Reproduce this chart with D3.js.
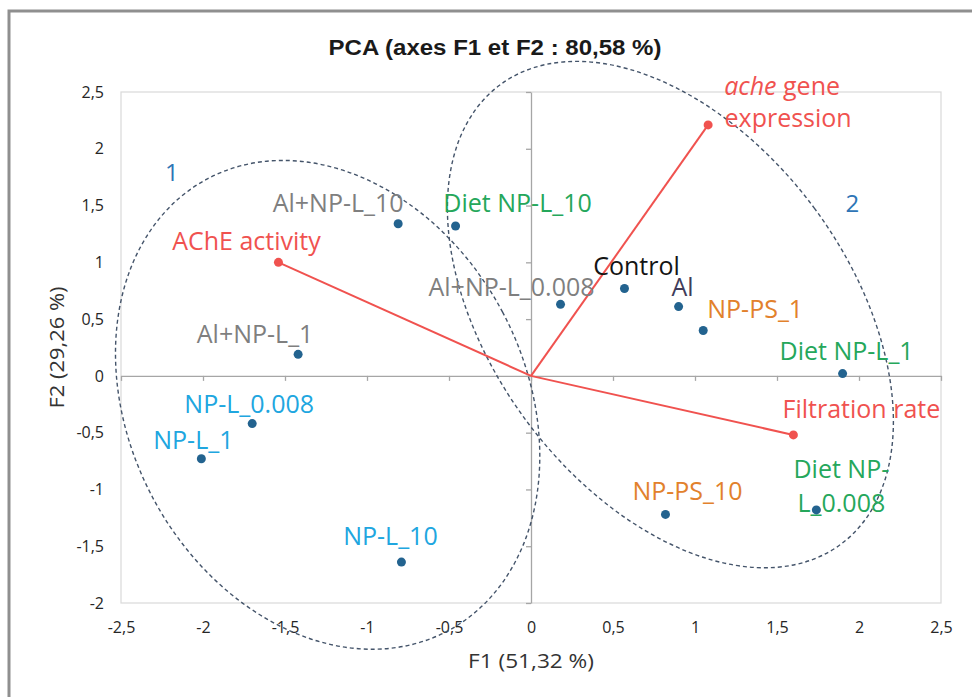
<!DOCTYPE html>
<html>
<head>
<meta charset="utf-8">
<script src="https://cdn.jsdelivr.net/npm/d3@7"></script>
<style>
  body { margin: 0; background: #fff; }
  svg text { font-family: "Open Sans", sans-serif; }
</style>
</head>
<body>
<svg id="chart" width="972" height="697"></svg>
<script>
// observations : scores on F1 / F2
var obsNames = ['Al+NP-L_10', 'Diet NP-L_10', 'Al+NP-L_0.008', 'Control', 'Al', 'NP-PS_1',
                'Diet NP-L_1', 'NP-PS_10', 'Diet NP-L_0.008', 'NP-L_10', 'NP-L_1', 'NP-L_0.008', 'Al+NP-L_1'];
var obsF1 = [-0.81, -0.46, 0.18, 0.57, 0.90, 1.05, 1.90, 0.82, 1.74, -0.79, -2.01, -1.70, -1.42];
var obsF2 = [1.34, 1.32, 0.63, 0.77, 0.61, 0.40, 0.02, -1.22, -1.18, -1.64, -0.73, -0.42, 0.19];
var obsGroup = ['alnpl', 'diet', 'alnpl', 'control', 'al', 'ps', 'diet', 'ps', 'diet', 'npl', 'npl', 'npl', 'alnpl'];

// variables : loadings on F1 / F2
var varNames = ['AChE activity', 'ache gene expression', 'Filtration rate'];
var varF1 = [-1.54, 1.08, 1.60];
var varF2 = [1.00, 2.21, -0.52];

var xTicks = [-2.5, -2, -1.5, -1, -0.5, 0, 0.5, 1, 1.5, 2, 2.5];
var yTicks = [-2, -1.5, -1, -0.5, 0, 0.5, 1, 1.5, 2, 2.5];

var title = 'PCA (axes F1 et F2 : 80,58 %)';
var xTitle = 'F1 (51,32 %)';
var yTitle = 'F2 (29,26 %)';

// styles / layout
var groupColor = { alnpl: '#7f7f7f', diet: '#25a75b', control: '#141414', al: '#403c5a', ps: '#e2812c', npl: '#20a6df' };
var red = '#f0524f', dotColor = '#23638f', ringColor = '#44546a';
var labelSize = 25;
// label placement for each observation: [anchor, dx, dy]
var obsLabelPos = [['middle', -60, -12], ['middle', 62, -14], ['middle', -49, -8], ['middle', 12, -13],
                   ['middle', 4, -11], ['middle', 52, -12], ['middle', 4, -14], ['middle', 22, -14],
                   ['middle', 25, -32], ['middle', -11, -17], ['middle', -8, -10], ['middle', -3, -11],
                   ['middle', -43, -11]];
var varLabelPos = [[-32, -12], [74, -30], [68, -17]];
// group ellipses : centre in data units, radii in px, rotation in degrees
var rings = [
  { cx: -1.24, cy: -0.255, rx: 198, ry: 256, rot: -28 },
  { cx: 0.85, cy: 0.54, rx: 179, ry: 286, rot: -36.6 }
];
var ringLabels = [{ t: '1', x: -2.19, y: 1.72 }, { t: '2', x: 1.96, y: 1.44 }];

var svg = d3.select('#chart');
var plotL = 121, plotR = 941, plotT = 92, plotB = 603;

var x = d3.scaleLinear().domain([-2.5, 2.5]).range([plotL, plotR]);
var y = d3.scaleLinear().domain([-2, 2.5]).range([plotB, plotT]);
var fmt = function(d) { return String(d).replace('.', ','); };

svg.append('rect').attr('width', 972).attr('height', 697).attr('fill', '#fff');
// outer frame (only left and top visible)
svg.append('path').attr('d', 'M9,697 L9,11 L972,11').attr('fill', 'none')
  .attr('stroke', '#8f8f8f').attr('stroke-width', 3);

svg.append('text').attr('x', 495).attr('y', 55).attr('text-anchor', 'middle')
  .style('font-family', '"Liberation Sans", Arial, sans-serif')
  .attr('font-weight', 'bold').attr('font-size', 22)
  .attr('textLength', 333).attr('lengthAdjust', 'spacingAndGlyphs')
  .attr('fill', '#1a1a1a').text(title);

// plot area
svg.append('rect').attr('x', plotL).attr('y', plotT).attr('width', plotR - plotL).attr('height', plotB - plotT)
  .attr('fill', 'none').attr('stroke', '#d9d9d9').attr('stroke-width', 1.2);

// tick labels
var gx = svg.append('g').attr('transform', 'translate(0,' + plotB + ')')
  .call(d3.axisBottom(x).tickValues(xTicks).tickFormat(fmt).tickSize(0).tickPadding(19));
var gy = svg.append('g').attr('transform', 'translate(' + plotL + ',0)')
  .call(d3.axisLeft(y).tickValues(yTicks).tickFormat(fmt).tickSize(0).tickPadding(17));
[gx, gy].forEach(function(g) {
  g.select('.domain').remove();
  g.selectAll('text').attr('font-size', 16).attr('fill', '#262626')
    .style('font-family', '"Open Sans", sans-serif');
});

// zero axes with small ticks
var zx = svg.append('g').attr('transform', 'translate(0,' + y(0) + ')')
  .call(d3.axisBottom(x).tickValues(xTicks).tickFormat('').tickSizeInner(5).tickSizeOuter(0));
var zy = svg.append('g').attr('transform', 'translate(' + x(0) + ',0)')
  .call(d3.axisLeft(y).tickValues(yTicks).tickFormat('').tickSizeInner(5).tickSizeOuter(0));
[zx, zy].forEach(function(g) {
  g.selectAll('.domain, line').attr('stroke', '#a6a6a6').attr('stroke-width', 1.3);
});

// axis titles
svg.append('text').attr('x', x(0)).attr('y', 668).attr('text-anchor', 'middle')
  .attr('font-size', 20).attr('fill', '#333')
  .attr('textLength', 126).attr('lengthAdjust', 'spacingAndGlyphs').text(xTitle);
svg.append('text').attr('transform', 'translate(64,' + ((plotT + plotB) / 2) + ') rotate(-90)')
  .attr('text-anchor', 'middle').attr('font-size', 20).attr('fill', '#333')
  .attr('textLength', 122).attr('lengthAdjust', 'spacingAndGlyphs').text(yTitle);

// group ellipses
svg.selectAll('ellipse.ring').data(rings).enter().append('ellipse').attr('class', 'ring')
  .attr('transform', function(d) { return 'translate(' + x(d.cx) + ',' + y(d.cy) + ') rotate(' + d.rot + ')'; })
  .attr('rx', function(d) { return d.rx; }).attr('ry', function(d) { return d.ry; })
  .attr('fill', 'none').attr('stroke', ringColor).attr('stroke-width', 1.4)
  .attr('stroke-dasharray', '4,3');
svg.selectAll('text.ringlab').data(ringLabels).enter().append('text').attr('class', 'ringlab')
  .attr('x', function(d) { return x(d.x); }).attr('y', function(d) { return y(d.y); })
  .attr('text-anchor', 'middle').attr('font-size', 24).attr('fill', '#2e75b6')
  .text(function(d) { return d.t; });

// variable vectors
var vars = varNames.map(function(n, i) { return { name: n, f1: varF1[i], f2: varF2[i], pos: varLabelPos[i] }; });
svg.selectAll('line.vec').data(vars).enter().append('line').attr('class', 'vec')
  .attr('x1', x(0)).attr('y1', y(0))
  .attr('x2', function(d) { return x(d.f1); }).attr('y2', function(d) { return y(d.f2); })
  .attr('stroke', red).attr('stroke-width', 2);
svg.selectAll('circle.vec').data(vars).enter().append('circle').attr('class', 'vec')
  .attr('cx', function(d) { return x(d.f1); }).attr('cy', function(d) { return y(d.f2); })
  .attr('r', 4.5).attr('fill', red);
vars.forEach(function(d) {
  var t = svg.append('text').attr('text-anchor', 'middle').attr('font-size', labelSize).attr('fill', red)
    .attr('x', x(d.f1) + d.pos[0]).attr('y', y(d.f2) + d.pos[1]);
  if (d.name.indexOf('ache ') === 0) {
    t.append('tspan').attr('font-style', 'italic').text('ache');
    t.append('tspan').text(' gene');
    svg.append('text').attr('text-anchor', 'middle').attr('font-size', labelSize).attr('fill', red)
      .attr('x', x(d.f1) + d.pos[0] + 6).attr('y', y(d.f2) + d.pos[1] + 32)
      .text(d.name.slice(10));
  } else {
    t.text(d.name);
  }
});

// observations
var obs = obsNames.map(function(n, i) {
  return { name: n, f1: obsF1[i], f2: obsF2[i], g: obsGroup[i], pos: obsLabelPos[i] };
});
obs.forEach(function(d) {
  var lines = d.name === 'Diet NP-L_0.008' ? ['Diet NP-', 'L_0.008'] : [d.name];
  lines.forEach(function(l, k) {
    svg.append('text').attr('text-anchor', d.pos[0]).attr('font-size', labelSize)
      .attr('fill', groupColor[d.g])
      .attr('x', x(d.f1) + d.pos[1]).attr('y', y(d.f2) + d.pos[2] + k * 34)
      .text(l);
  });
});
svg.selectAll('circle.obs').data(obs).enter().append('circle').attr('class', 'obs')
  .attr('cx', function(d) { return x(d.f1); }).attr('cy', function(d) { return y(d.f2); })
  .attr('r', 4.5).attr('fill', dotColor);
</script>
</body>
</html>
